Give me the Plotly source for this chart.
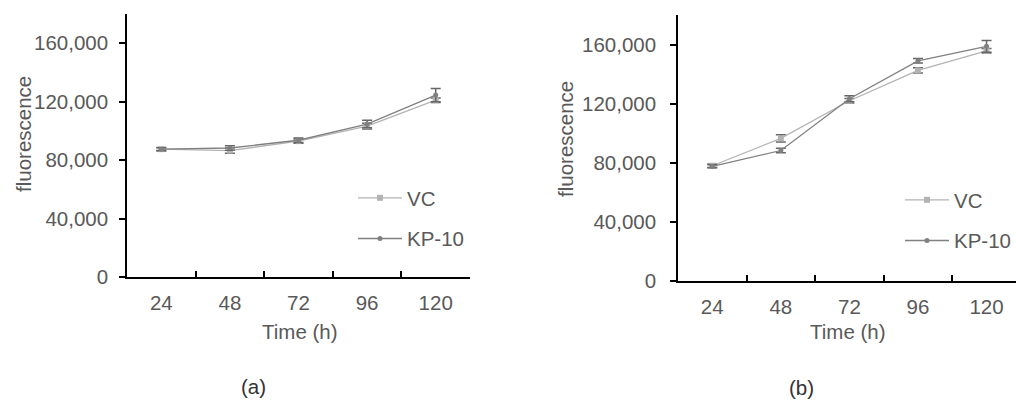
import plotly.graph_objects as go

time_labels = ["24", "48", "72", "96", "120"]

# Panel (a)
a_vc = [87500, 86500, 93000, 103300, 121000]
a_vc_err = [1200, 1800, 1500, 2000, 1500]
a_kp = [87500, 88300, 93600, 104700, 124500]
a_kp_err = [1000, 1500, 1500, 2500, 4500]

# Panel (b)
b_vc = [78000, 96500, 122000, 142500, 155800]
b_vc_err = [1200, 2500, 1500, 1800, 1500]
b_kp = [77600, 88300, 123300, 149000, 158800]
b_kp_err = [1000, 1500, 2000, 1500, 4000]

y_ticks = [0, 40000, 80000, 120000, 160000]
y_ticktext = ["0", "40,000", "80,000", "120,000", "160,000"]

x_title = "Time (h)"
y_title = "fluorescence"
panel_labels = ["(a)", "(b)"]

TXT = "#595959"
FONT = "Liberation Sans, Arial, sans-serif"
FS = 20.5
VC_COL = "#b3b3b3"
KP_COL = "#808080"
ERR_COL = "#666666"

fig = go.Figure()

def add_panel(xa, ya, vc, vc_err, kp, kp_err, legend):
    fig.add_trace(go.Scatter(
        x=time_labels, y=vc, name="VC", mode="lines+markers",
        xaxis=xa, yaxis=ya, legend=legend, legendgroup=legend + "vc",
        line=dict(color=VC_COL, width=1.3),
        marker=dict(symbol="square", size=6, color=VC_COL),
        error_y=dict(type="data", array=vc_err, color=ERR_COL, thickness=1.5, width=5),
    ))
    fig.add_trace(go.Scatter(
        x=time_labels, y=kp, name="KP-10", mode="lines+markers",
        xaxis=xa, yaxis=ya, legend=legend, legendgroup=legend + "kp",
        line=dict(color=KP_COL, width=1.3),
        marker=dict(symbol="circle", size=5, color=KP_COL),
        error_y=dict(type="data", array=kp_err, color=ERR_COL, thickness=1.5, width=5),
    ))

add_panel("x", "y", a_vc, a_vc_err, a_kp, a_kp_err, "legend")
add_panel("x2", "y2", b_vc, b_vc_err, b_kp, b_kp_err, "legend2")

W, H = 1016, 400

def xd(px):
    return px / W

def yd(py):
    return 1 - py / H

xcommon = dict(
    type="category", tickson="boundaries", ticks="inside", ticklen=6,
    tickcolor="black", tickwidth=1.5, showline=True, linecolor="black", linewidth=1.5,
    showgrid=False, zeroline=False, tickfont=dict(family=FONT, size=FS, color=TXT),
    fixedrange=True, automargin=False, ticklabelstandoff=7,
)
ycommon = dict(
    tickvals=y_ticks, ticktext=y_ticktext, ticks="outside", ticklen=6,
    tickcolor="black", tickwidth=1.5, showline=True, linecolor="black", linewidth=1.5,
    showgrid=False, zeroline=False, tickfont=dict(family=FONT, size=FS, color=TXT),
    range=[0, 180000], automargin=False, fixedrange=True,
)

legcommon = dict(
    font=dict(family=FONT, size=FS, color=TXT), bgcolor="rgba(0,0,0,0)",
    xanchor="left", yanchor="top", tracegroupgap=11, itemwidth=44,
    itemclick=False, itemdoubleclick=False,
)

def txt(text, x, y, angle=0, color=TXT):
    return dict(text=text, x=xd(x), y=yd(y), xref="paper", yref="paper",
                xanchor="center", yanchor="middle", textangle=angle, showarrow=False,
                font=dict(family=FONT, size=FS, color=color))

fig.update_layout(
    template="none",
    width=W, height=H, margin=dict(l=0, r=0, t=0, b=0, autoexpand=False),
    paper_bgcolor="white", plot_bgcolor="white",
    showlegend=True,
    xaxis=dict(xcommon, domain=[xd(127), xd(470)], anchor="y", range=[-0.5, 4.5]),
    yaxis=dict(ycommon, domain=[yd(277), yd(14)], anchor="x", ticklabelstandoff=7),
    xaxis2=dict(xcommon, domain=[xd(678), 1.0], anchor="y2", range=[-0.5, 4.43]),
    yaxis2=dict(ycommon, domain=[yd(281), yd(15)], anchor="x2", ticklabelstandoff=10),
    legend=dict(legcommon, x=xd(353), y=yd(178)),
    legend2=dict(legcommon, x=xd(900), y=yd(180)),
    annotations=[
        txt(x_title, 300, 331),
        txt(x_title, 848, 331),
        txt(y_title, 23, 134, -90),
        txt(y_title, 566, 139, -90),
        txt(panel_labels[0], 253.5, 386, color="#333333"),
        txt(panel_labels[1], 801, 387, color="#333333"),
    ],
)

fig.write_html(
    "out.html",
    config={"displayModeBar": False},
    post_script="document.body.style.margin='0';document.body.style.overflow='hidden';",
)
